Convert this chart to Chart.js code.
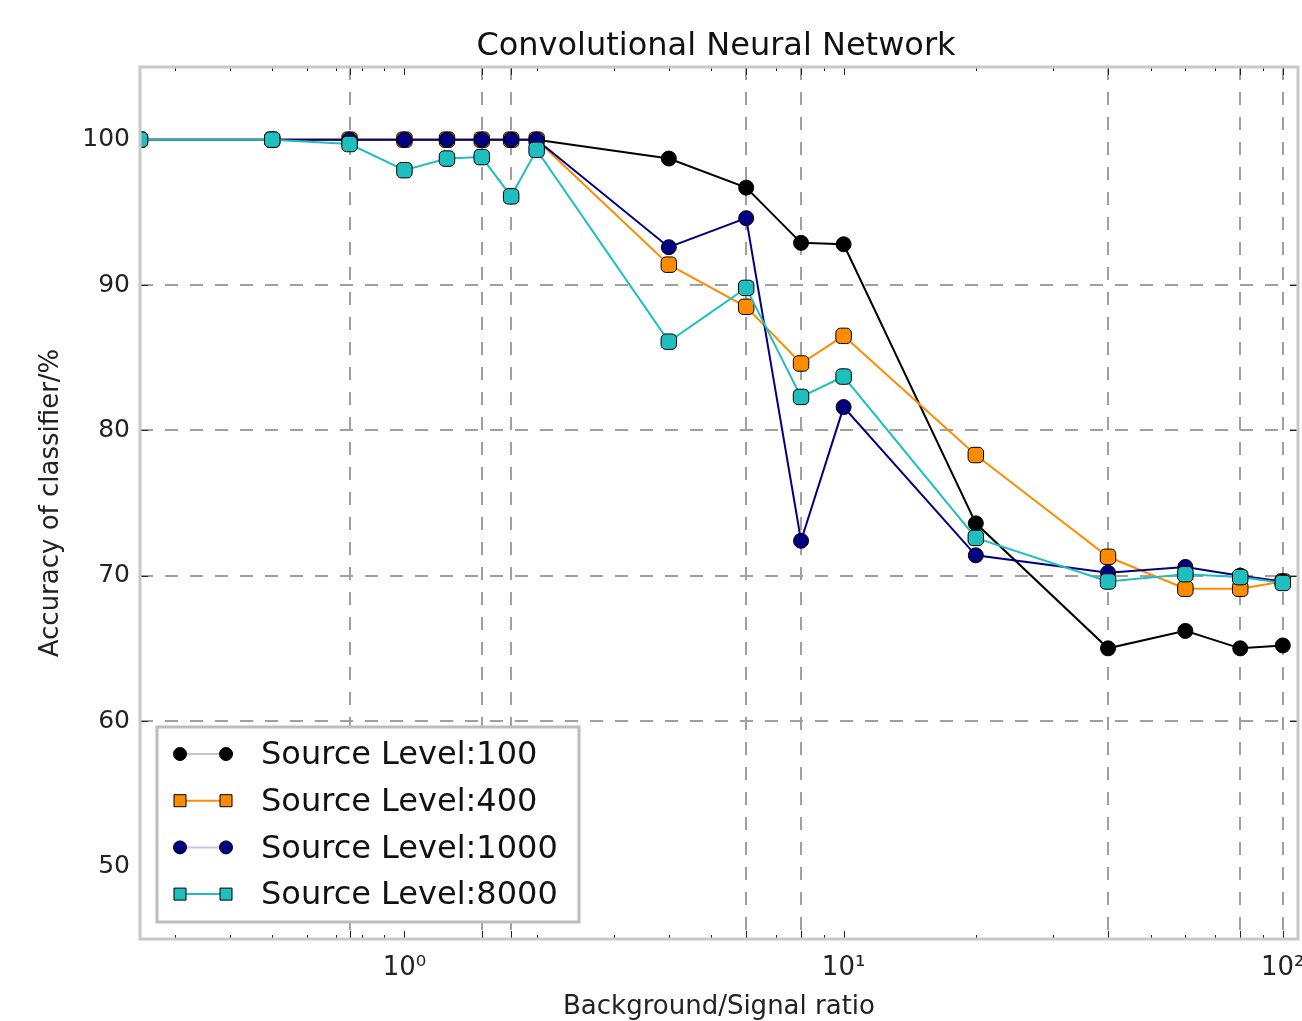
<!DOCTYPE html>
<html>
<head>
<meta charset="utf-8">
<title>Convolutional Neural Network</title>
<script src="https://cdn.jsdelivr.net/npm/chart.js@4.4.1/dist/chart.umd.min.js"></script>
<style>
  html, body { margin: 0; padding: 0; background: #fff; }
  #wrap { width: 1302px; height: 1021px; }
</style>
</head>
<body>
<div id="wrap"><canvas id="cnnChart" width="1302" height="1021"></canvas></div>
<script>
// background/signal ratios (x) and accuracy in % for each source level
const ratios = [0.25, 0.5, 0.75, 1, 1.25, 1.5, 1.75, 2, 4, 6, 8, 10, 20, 40, 60, 80, 100];
const level100 = [100, 100, 100, 100, 100, 100, 100, 100, 98.7, 96.7, 92.9, 92.8, 73.6, 65.0, 66.2, 65.0, 65.2];
const level400 = [100, 100, 100, 100, 100, 100, 100, 100, 91.4, 88.5, 84.6, 86.5, 78.3, 71.3, 69.1, 69.1, 69.6];
const level1000 = [100, 100, 100, 100, 100, 100, 100, 100, 92.6, 94.6, 72.4, 81.6, 71.4, 70.2, 70.6, 70.0, 69.6];
const level8000 = [100, 100, 99.7, 97.9, 98.7, 98.8, 96.1, 99.3, 86.1, 89.8, 82.3, 83.7, 72.6, 69.6, 70.1, 69.9, 69.5];
const seriesNames = ['Source Level:100', 'Source Level:400', 'Source Level:1000', 'Source Level:8000'];

// ticks: grid lines on the log axis, labels only at the decades
const xGridValues = [0.75, 1, 1.5, 1.75, 6, 8, 10, 40, 80, 100];
const xTickLabels = { 1: '10\u2070', 10: '10\u00B9', 100: '10\u00B2' };
const yTickValues = [50, 60, 70, 80, 90, 100];

const FONT = "'DejaVu Sans', sans-serif";
const GRID = '#a0a0a0';
const FRAME = '#c8c8c8';
const PLOT_RIGHT = 1298;

function toPoints(values) {
    return ratios.map((r, i) => ({ x: r, y: values[i] }));
}

function makeSet(label, values, color, style, radius, legendAlpha, order) {
    return {
        label: label,
        data: toPoints(values),
        borderColor: color,
        backgroundColor: color,
        borderWidth: 2,
        pointStyle: style,
        pointRadius: radius,
        pointBackgroundColor: color,
        pointBorderColor: '#000',
        pointBorderWidth: 1,
        tension: 0,
        clip: 0,
        order: order,
        legendAlpha: legendAlpha
    };
}

// let the last tick label run off the canvas, like the original
const fixArea = {
    id: 'fixArea',
    afterLayout(chart) {
        const a = chart.chartArea;
        const xs = chart.scales.x;
        a.right = PLOT_RIGHT;
        a.width = a.right - a.left;
        xs.right = PLOT_RIGHT;
        xs.width = xs.right - xs.left;
        xs.configure();
    }
};

// frame round the plot plus small inward tick marks
const frameAndTicks = {
    id: 'frameAndTicks',
    afterDatasetsDraw(chart) {
        const ctx = chart.ctx;
        const a = chart.chartArea;
        const xs = chart.scales.x;
        const ys = chart.scales.y;
        ctx.save();
        ctx.strokeStyle = '#222';
        ctx.lineWidth = 1;
        ctx.beginPath();
        [0.1, 1, 10].forEach(dec => {
            for (let k = 2; k <= 9; k++) {
                const v = dec * k;
                if (v <= xs.min || v >= xs.max) continue;
                const px = Math.round(xs.getPixelForValue(v)) + 0.5;
                ctx.moveTo(px, a.top); ctx.lineTo(px, a.top + 4);
                ctx.moveTo(px, a.bottom); ctx.lineTo(px, a.bottom - 4);
            }
        });
        xGridValues.forEach(v => {
            const px = Math.round(xs.getPixelForValue(v)) + 0.5;
            ctx.moveTo(px, a.top); ctx.lineTo(px, a.top + 8);
            ctx.moveTo(px, a.bottom); ctx.lineTo(px, a.bottom - 8);
        });
        yTickValues.forEach(v => {
            if (v === 50 || v === 100) return;
            const py = Math.round(ys.getPixelForValue(v)) + 0.5;
            ctx.moveTo(a.left, py); ctx.lineTo(a.left + 8, py);
            ctx.moveTo(a.right, py); ctx.lineTo(a.right - 8, py);
        });
        ctx.stroke();
        ctx.strokeStyle = FRAME;
        ctx.lineWidth = 3;
        ctx.strokeRect(a.left, a.top, a.right - a.left, a.bottom - a.top);
        ctx.restore();
    }
};

// legend box inside the plot, lower left
const boxLegend = {
    id: 'boxLegend',
    afterDraw(chart) {
        const ctx = chart.ctx;
        const sets = chart.data.datasets;
        const bx = 157, by = 727, bw = 422, bh = 195;
        ctx.save();
        ctx.fillStyle = '#fff';
        ctx.fillRect(bx, by, bw, bh);
        ctx.strokeStyle = '#bdbdbd';
        ctx.lineWidth = 3;
        ctx.strokeRect(bx, by, bw, bh);
        sets.forEach((ds, i) => {
            const y = 754 + i * 46.7;
            ctx.globalAlpha = ds.legendAlpha;
            ctx.strokeStyle = ds.borderColor;
            ctx.lineWidth = 2;
            ctx.beginPath();
            ctx.moveTo(180, y); ctx.lineTo(226, y);
            ctx.stroke();
            ctx.globalAlpha = 1;
            [180, 226].forEach(mx => {
                ctx.fillStyle = ds.borderColor;
                ctx.strokeStyle = '#000';
                ctx.lineWidth = 1;
                ctx.beginPath();
                if (ds.pointStyle === 'circle') {
                    ctx.arc(mx, y, 6.5, 0, Math.PI * 2);
                } else {
                    ctx.rect(mx - 6, y - 6, 12, 12);
                }
                ctx.fill();
                ctx.stroke();
            });
            ctx.fillStyle = '#111';
            ctx.font = '32px ' + FONT;
            ctx.textBaseline = 'middle';
            ctx.textAlign = 'left';
            ctx.fillText(ds.label, 261, y + 2);
        });
        ctx.restore();
    }
};

const ctx = document.getElementById('cnnChart').getContext('2d');
const cnnChart = new Chart(ctx, {
    type: 'line',
    data: {
        datasets: [
            makeSet(seriesNames[0], level100, '#000000', 'circle', 7.5, 0.22, 4),
            makeSet(seriesNames[1], level400, '#ff8c00', 'rectRounded', 9, 1, 3),
            makeSet(seriesNames[2], level1000, '#000080', 'circle', 7.5, 0.22, 2),
            makeSet(seriesNames[3], level8000, '#1fbfbf', 'rectRounded', 9, 1, 1)
        ]
    },
    options: {
        responsive: false,
        animation: false,
        events: [],
        layout: { padding: { left: 0, right: 0, top: 0, bottom: 0 } },
        plugins: {
            legend: { display: false },
            tooltip: { enabled: false },
            title: {
                display: true,
                fullSize: false,
                text: 'Convolutional Neural Network',
                color: '#111',
                font: { family: FONT, size: 32, weight: 'normal' },
                padding: { top: 27, bottom: 1.6 }
            }
        },
        scales: {
            x: {
                type: 'logarithmic',
                min: 0.25,
                max: 108.3,
                afterBuildTicks: (scale) => {
                    scale.ticks = xGridValues.map(v => ({ value: v }));
                },
                afterFit: (scale) => {
                    scale.height = 82;
                    scale.paddingLeft = 0;
                    scale.paddingRight = 0;
                },
                grid: {
                    color: (c) => (c.tick && (c.tick.value === 1 || c.tick.value === 10)) ? 'rgba(0,0,0,0)' : GRID,
                    lineWidth: 2,
                    drawTicks: false
                },
                border: { display: false, dash: [13, 12] },
                ticks: {
                    autoSkip: false,
                    maxRotation: 0,
                    padding: 14,
                    color: '#222',
                    font: { family: FONT, size: 26 },
                    callback: (v) => xTickLabels[v] || ''
                },
                title: {
                    display: true,
                    text: 'Background/Signal ratio',
                    color: '#222',
                    font: { family: FONT, size: 26 },
                    padding: { top: 0, bottom: -2 }
                }
            },
            y: {
                type: 'linear',
                min: 45,
                max: 105,
                afterBuildTicks: (scale) => {
                    scale.ticks = yTickValues.map(v => ({ value: v }));
                },
                afterFit: (scale) => {
                    scale.width = 140;
                    scale.paddingTop = 0;
                    scale.paddingBottom = 0;
                },
                grid: {
                    color: (c) => (c.tick && (c.tick.value === 50 || c.tick.value === 100)) ? 'rgba(0,0,0,0)' : GRID,
                    lineWidth: 2,
                    drawTicks: false
                },
                border: { display: false, dash: [13, 12] },
                ticks: {
                    padding: 10,
                    color: '#222',
                    font: { family: FONT, size: 25 }
                },
                title: {
                    display: true,
                    text: 'Accuracy of classifier/%',
                    color: '#222',
                    font: { family: FONT, size: 26 },
                    padding: { top: 36, bottom: 0 }
                }
            }
        }
    },
    plugins: [fixArea, frameAndTicks, boxLegend]
});
</script>
</body>
</html>
